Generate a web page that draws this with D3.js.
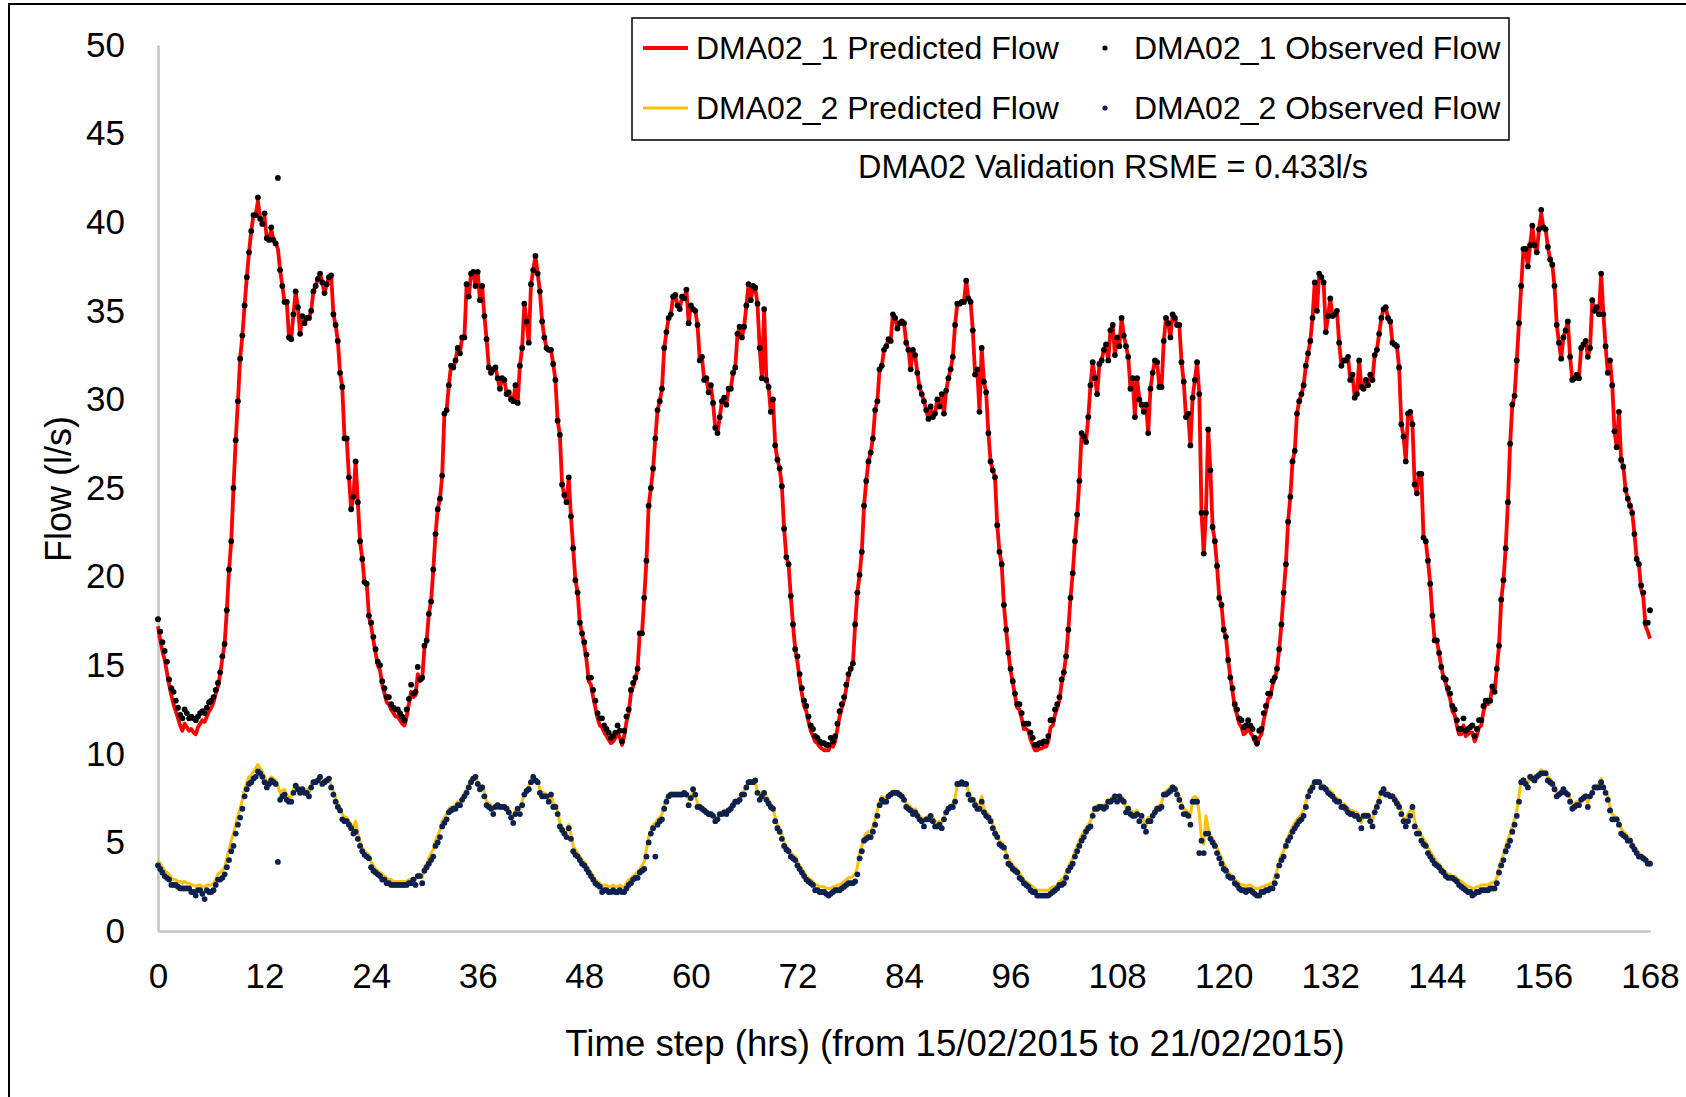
<!DOCTYPE html>
<html>
<head>
<meta charset="utf-8">
<script src="https://cdn.jsdelivr.net/npm/d3@7"></script>
<style>
  html, body { margin: 0; padding: 0; background: #fff; }
  svg { display: block; }
  text { font-family: "Liberation Sans", Arial, sans-serif; fill: #000; }
</style>
</head>
<body>
<svg id="chart" width="1686" height="1097"></svg>
<script>
// Flow series sampled every 15 minutes (one row = one hour), 0 h .. 168 h
const step = 0.25;

const obs1 = [
17.6,16.9,16.3,15.8, 15.2,14.2,13.7,13.5, 13.0,12.6,12.2,12.0, 12.5,12.3,12.0,12.1,
12.0,11.9,12.1,12.3, 12.4,12.3,12.6,12.9, 13.0,13.2,13.6,14.0, 14.6,15.5,16.2,18.1,
20.4,22.0,25.0,27.7, 29.9,32.3,33.6,35.3, 36.9,38.3,39.5,40.4, 40.4,41.4,40.2,39.9,
40.5,39.1,39.0,39.7, 39.0,38.8,42.5,37.3, 36.4,35.5,35.5,33.5, 33.4,34.8,36.1,35.2,
33.7,34.7,34.3,34.6, 34.6,35.0,36.1,36.4, 36.8,37.1,36.6,36.0, 36.5,36.9,37.0,34.8,
34.2,33.3,31.5,30.7, 27.8,27.8,25.6,23.8, 24.5,26.5,24.2,22.0, 21.0,19.7,19.6,17.8,
17.4,16.6,15.9,15.2, 15.0,14.1,13.7,13.2, 13.2,12.8,12.6,12.5, 12.5,12.3,12.1,11.9,
12.5,13.1,13.9,13.4, 13.5,14.9,14.2,14.3, 16.1,16.4,17.9,18.6, 20.4,22.4,23.8,24.4,
25.7,29.2,29.4,30.8, 31.9,31.8,32.2,32.9, 32.6,33.5,33.5,36.5, 35.8,37.1,37.2,36.4,
37.2,35.6,36.4,34.7, 33.4,31.8,31.5,31.7, 31.8,31.2,30.6,31.2, 31.1,30.3,30.4,30.0,
29.9,30.8,29.8,31.9, 32.9,35.4,34.4,33.2, 36.5,37.3,38.1,37.1, 36.1,34.4,33.5,32.9,
32.8,32.8,32.0,31.1, 28.8,28.0,25.2,24.6, 24.2,25.6,23.4,21.6, 19.8,19.1,17.4,16.8,
16.3,15.6,14.3,14.3, 13.6,13.0,12.3,12.0, 12.0,11.6,11.4,11.2, 10.9,11.0,11.2,11.6,
11.3,10.7,11.3,12.1, 12.5,13.6,14.0,14.3, 14.8,16.8,16.8,18.8, 20.9,24.0,25.0,26.1,
27.8,29.4,29.9,30.6, 32.9,33.8,34.6,34.8, 35.8,35.9,35.3,35.1, 35.8,35.7,36.2,34.3,
35.3,35.1,35.0,34.2, 32.2,32.4,31.1,31.2, 30.4,30.8,29.8,28.4, 28.1,29.0,29.9,30.1,
29.7,30.6,30.6,31.5, 31.8,33.7,34.1,33.5, 34.1,35.3,36.5,35.6, 36.4,36.3,35.4,32.9,
31.2,35.1,31.1,30.7, 29.3,30.0,27.4,26.6, 26.1,25.1,22.7,21.1, 20.7,18.9,17.3,15.9,
15.5,14.5,13.7,13.0, 12.7,12.1,11.6,11.4, 11.0,10.9,10.7,10.6, 10.6,10.5,10.5,10.9,
10.7,11.0,11.7,12.4, 12.8,13.2,13.9,14.5, 14.8,15.1,17.3,19.1, 20.1,21.4,24.0,25.4,
26.5,27.0,27.8,29.4, 29.9,31.7,31.9,32.8, 33.0,33.4,33.3,34.8, 34.6,34.0,34.3,34.4,
34.3,33.2,32.8,31.7, 32.8,32.5,31.5,30.7, 30.3,29.9,29.4,28.9, 29.6,29.0,29.2,30.0,
29.6,30.3,29.2,30.5, 31.2,31.7,32.4,34.2, 35.4,35.4,35.5,35.5, 36.7,35.7,35.5,33.9,
31.4,31.7,29.3,32.9, 31.0,30.4,28.1,26.5, 26.0,25.6,22.9,21.4, 20.7,18.4,17.0,15.7,
14.8,14.1,13.4,12.8, 12.8,12.3,11.7,11.7, 11.7,11.2,10.9,10.5, 10.5,10.6,10.6,10.7,
10.7,11.0,11.9,11.9, 12.5,12.8,13.2,14.2, 14.6,15.5,17.0,18.8, 20.2,22.0,23.5,25.4,
28.1,27.9,27.6,29.0, 30.8,32.1,31.2,30.3, 32.0,32.2,32.8,33.1, 32.2,33.9,34.2,32.5,
33.5,33.0,34.6,33.6, 33.0,32.4,30.6,31.2, 29.0,31.2,30.0,29.7, 29.3,29.7,28.1,30.6,
31.5,32.2,32.1,30.7, 30.7,33.3,34.6,34.3, 33.5,34.8,34.6,34.2, 34.2,32.1,31.0,29.0,
29.2,27.4,30.1,31.1, 32.1,30.3,23.6,21.3, 23.6,28.3,26.0,22.8, 22.0,20.6,18.8,18.4,
17.0,16.6,15.3,14.3, 13.7,12.8,12.5,12.0, 11.9,11.5,11.6,11.9, 11.6,11.4,10.9,10.6,
11.3,11.4,12.3,12.7, 13.4,13.4,14.1,14.3, 14.8,15.9,17.3,19.1, 20.7,23.1,24.5,26.5,
27.1,29.2,29.9,30.3, 30.8,31.9,32.6,33.3, 34.6,36.6,35.0,37.1, 36.9,36.6,33.8,34.7,
35.7,34.7,34.8,35.0, 33.2,31.9,32.2,32.2, 32.4,31.1,31.4,30.1, 30.3,32.2,30.7,30.6,
31.1,30.8,31.4,31.1, 32.5,32.8,33.7,34.6, 35.1,35.2,34.6,34.4, 33.2,33.1,33.0,31.8,
28.6,27.9,26.5,29.2, 29.3,28.6,25.2,24.7, 25.8,25.8,22.2,22.0, 20.9,19.6,17.8,16.4,
16.4,15.7,14.9,14.3, 14.2,13.7,13.4,12.7, 12.5,11.9,11.4,11.4, 12.0,11.3,11.4,11.5,
11.6,11.0,11.4,11.9, 11.9,12.7,13.0,13.0, 13.0,13.8,13.5,14.8, 16.1,18.7,19.8,21.6,
24.2,27.5,29.7,30.2, 32.2,34.3,36.4,38.5, 38.5,37.5,38.7,39.8, 38.7,38.3,39.6,40.7,
39.7,39.6,38.6,37.9, 37.6,36.4,34.2,33.2, 32.3,33.5,33.9,34.4, 32.4,31.1,31.2,31.4,
31.2,32.9,33.1,33.3, 32.4,32.9,35.6,35.0, 35.2,34.8,37.1,34.8, 33.0,31.5,32.2,30.8,
28.2,27.3,29.3,26.6, 26.2,24.9,24.4,24.0, 23.6,22.4,21.0,20.7, 19.5,19.1,17.4,17.4,
18.1
];

const pred1 = [
17.2,16.4,15.8,15.3, 14.6,13.9,13.3,12.8, 12.4,12.0,11.6,11.3, 11.7,11.5,11.3,11.4,
11.2,11.1,11.5,11.7, 11.9,11.8,12.1,12.4, 12.6,12.9,13.4,13.8, 14.5,15.4,16.2,18.1,
20.4,22.0,25.0,27.7, 29.9,32.3,33.6,35.3, 36.9,38.3,39.5,40.4, 40.4,41.2,40.2,39.9,
40.3,39.1,39.0,39.6, 39.0,38.8,38.5,37.3, 36.4,35.5,35.5,33.5, 33.4,34.8,36.1,35.2,
33.7,34.7,34.3,34.6, 34.6,35.0,36.1,36.4, 36.8,37.1,36.6,36.0, 36.5,36.9,37.0,34.8,
34.2,33.3,31.5,30.7, 27.8,27.8,25.6,23.8, 24.5,26.5,24.2,22.0, 21.0,19.7,19.6,17.8,
17.2,16.4,15.7,15.0, 14.7,13.9,13.4,12.9, 12.8,12.5,12.3,12.1, 12.1,11.9,11.7,11.6,
12.1,12.8,13.5,13.2, 13.3,14.5,14.1,14.2, 16.0,16.4,17.9,18.6, 20.4,22.4,23.8,24.4,
25.7,29.2,29.4,30.8, 31.9,31.8,32.2,32.9, 32.6,33.5,33.5,36.5, 35.8,37.1,37.2,36.4,
37.2,35.6,36.4,34.7, 33.4,31.8,31.5,31.7, 31.8,31.2,30.6,31.2, 31.1,30.3,30.4,30.0,
29.9,30.8,29.8,31.9, 32.9,35.4,34.4,33.2, 36.5,37.3,38.1,37.1, 36.1,34.4,33.5,32.9,
32.8,32.8,32.0,31.1, 28.8,28.0,25.2,24.6, 24.2,25.6,23.4,21.6, 19.8,19.1,17.4,16.8,
16.1,15.3,14.1,13.9, 13.2,12.6,12.0,11.6, 11.5,11.2,11.0,10.8, 10.6,10.7,10.9,11.2,
10.9,10.5,11.0,11.8, 12.3,13.4,13.8,14.2, 14.8,16.8,16.8,18.8, 20.9,24.0,25.0,26.1,
27.8,29.4,29.9,30.6, 32.9,33.8,34.6,34.8, 35.8,35.9,35.3,35.1, 35.8,35.7,36.2,34.3,
35.3,35.1,35.0,34.2, 32.2,32.4,31.1,31.2, 30.4,30.8,29.8,28.4, 28.1,29.0,29.9,30.1,
29.7,30.6,30.6,31.5, 31.8,33.7,34.1,33.5, 34.1,35.3,36.5,35.6, 36.4,36.3,35.4,32.9,
31.2,35.1,31.1,30.7, 29.3,30.0,27.4,26.6, 26.1,25.1,22.7,21.1, 20.7,18.9,17.3,15.9,
15.2,14.2,13.4,12.7, 12.4,11.8,11.3,11.0, 10.7,10.6,10.4,10.3, 10.2,10.2,10.2,10.5,
10.4,10.7,11.4,12.1, 12.6,13.0,13.7,14.4, 14.8,15.1,17.3,19.1, 20.1,21.4,24.0,25.4,
26.5,27.0,27.8,29.4, 29.9,31.7,31.9,32.8, 33.0,33.4,33.3,34.8, 34.6,34.0,34.3,34.4,
34.3,33.2,32.8,31.7, 32.8,32.5,31.5,30.7, 30.3,29.9,29.4,28.9, 29.6,29.0,29.2,30.0,
29.6,30.3,29.2,30.5, 31.2,31.7,32.4,34.2, 35.4,35.4,35.5,35.5, 36.7,35.7,35.5,33.9,
31.4,31.7,29.3,32.9, 31.0,30.4,28.1,26.5, 26.0,25.6,22.9,21.4, 20.7,18.4,17.0,15.7,
14.7,14.0,13.3,12.6, 12.5,12.0,11.4,11.4, 11.3,10.8,10.5,10.2, 10.2,10.3,10.3,10.4,
10.4,10.7,11.5,11.6, 12.2,12.6,13.0,14.0, 14.6,15.5,17.0,18.8, 20.2,22.0,23.5,25.4,
28.1,27.9,27.6,29.0, 30.8,32.1,31.2,30.3, 32.0,32.2,32.8,33.1, 32.2,33.9,34.2,32.5,
33.5,33.0,34.6,33.6, 33.0,32.4,30.6,31.2, 29.0,31.2,30.0,29.7, 29.3,29.7,28.1,30.6,
31.5,32.2,32.1,30.7, 30.7,33.3,34.6,34.3, 33.5,34.8,34.6,34.2, 34.2,32.1,31.0,29.0,
29.2,27.4,30.1,31.1, 32.1,30.3,23.6,21.3, 23.6,28.3,26.0,22.8, 22.0,20.6,18.8,18.4,
17.0,16.6,15.3,14.3, 13.5,12.6,12.2,11.7, 11.5,11.1,11.2,11.5, 11.2,11.0,10.7,10.5,
10.9,11.1,11.9,12.4, 13.1,13.2,13.9,14.2, 14.8,15.9,17.3,19.1, 20.7,23.1,24.5,26.5,
27.1,29.2,29.9,30.3, 30.8,31.9,32.6,33.3, 34.6,36.6,35.0,37.1, 36.9,36.6,33.8,34.7,
35.7,34.7,34.8,35.0, 33.2,31.9,32.2,32.2, 32.4,31.1,31.4,30.1, 30.3,32.2,30.7,30.6,
31.1,30.8,31.4,31.1, 32.5,32.8,33.7,34.6, 35.1,35.2,34.6,34.4, 33.2,33.1,33.0,31.8,
28.6,27.9,26.5,29.2, 29.3,28.6,25.2,24.7, 25.8,25.8,22.2,22.0, 20.9,19.6,17.8,16.4,
16.4,15.7,14.9,14.3, 14.0,13.5,13.1,12.4, 12.2,11.6,11.1,11.1, 11.6,11.0,11.1,11.2,
11.2,10.7,11.0,11.5, 11.6,12.4,12.8,12.8, 13.0,13.8,13.5,14.8, 16.1,18.7,19.8,21.6,
24.2,27.5,29.7,30.2, 32.2,34.3,36.4,38.5, 38.5,37.5,38.7,39.8, 38.7,38.3,39.6,40.5,
39.7,39.6,38.6,37.9, 37.6,36.4,34.2,33.2, 32.3,33.5,33.9,34.4, 32.4,31.1,31.2,31.4,
31.2,32.9,33.1,33.3, 32.4,32.9,35.6,35.0, 35.2,34.8,37.1,34.8, 33.0,31.5,32.2,30.8,
28.2,27.3,29.3,26.6, 26.2,24.9,24.4,24.0, 23.6,22.4,21.0,20.7, 19.3,18.8,17.2,16.9,
16.5
];

const obs2 = [
3.7,3.5,3.3,3.1, 3.0,2.9,2.6,2.6, 2.6,2.5,2.4,2.4, 2.4,2.4,2.4,2.2,
2.2,2.0,2.3,2.3, 2.1,1.8,2.3,2.2, 2.2,2.3,2.6,2.9, 2.9,3.0,3.2,3.6,
4.0,4.5,4.8,5.5, 6.0,6.4,6.9,7.6, 8.0,8.3,8.4,8.6, 8.7,9.0,8.9,8.7,
8.4,8.1,8.3,8.5, 8.4,8.3,3.9,7.4, 7.6,7.7,7.4,7.3, 7.3,7.8,8.2,8.0,
7.8,8.0,7.8,7.8, 7.6,8.1,8.4,8.4, 8.5,8.7,8.3,8.4, 8.5,8.6,8.1,7.7,
7.3,7.0,6.8,6.3, 6.2,6.2,6.0,5.8, 5.5,5.6,5.2,4.8, 4.5,4.3,4.2,4.1,
3.6,3.4,3.3,3.2, 3.1,2.9,2.9,2.7, 2.7,2.6,2.6,2.6, 2.6,2.6,2.6,2.6,
2.6,2.7,2.7,2.9, 2.6,3.1,3.1,2.7, 3.4,3.6,3.8,4.0, 4.2,4.8,5.0,5.3,
5.9,6.1,6.3,6.7, 6.8,6.9,6.9,7.1, 7.1,7.4,7.6,7.8, 8.1,8.4,8.6,8.7,
8.3,8.0,8.1,7.6, 7.1,7.0,6.9,6.6, 7.0,7.1,7.0,7.0, 7.0,6.9,6.7,6.4,
6.1,6.6,6.9,6.6, 7.1,7.7,7.9,8.0, 8.4,8.7,8.5,8.4, 7.8,7.6,7.6,7.6,
7.3,7.7,7.0,7.0, 6.6,5.9,5.7,5.5, 5.3,5.8,5.2,4.5, 4.3,4.2,4.0,3.8,
3.7,3.5,3.3,3.1, 2.9,2.7,2.6,2.5, 2.2,2.3,2.3,2.2, 2.2,2.3,2.2,2.2,
2.3,2.2,2.2,2.4, 2.6,2.7,2.9,3.0, 3.0,3.3,3.4,3.5, 4.2,5.0,5.5,5.8,
4.2,6.0,6.2,6.3, 6.9,7.3,7.6,7.7, 7.7,7.7,7.7,7.7, 7.7,7.8,7.7,7.1,
7.5,8.0,7.7,7.0, 7.0,6.9,6.8,6.7, 6.6,6.6,6.5,6.2, 6.3,6.6,6.6,6.7,
6.6,6.8,6.9,7.1, 7.3,7.3,7.4,7.7, 7.7,8.1,8.4,8.4, 8.4,8.5,7.8,7.4,
7.6,7.8,7.4,7.2, 7.0,6.9,6.2,5.8, 5.6,5.2,4.8,4.6, 4.5,4.2,4.1,4.0,
3.7,3.5,3.3,3.1, 2.9,2.8,2.7,2.6, 2.3,2.3,2.2,2.2, 2.2,2.1,2.0,2.1,
2.2,2.3,2.3,2.3, 2.4,2.5,2.6,2.7, 2.7,2.7,2.8,3.2, 4.1,4.5,5.1,5.2,
5.3,5.3,5.6,6.0, 6.5,7.1,7.4,7.3, 7.3,7.6,7.7,7.8, 7.8,7.8,7.7,7.6,
7.4,7.0,6.9,6.8, 6.6,6.7,6.5,6.3, 6.2,5.9,6.3,6.3, 6.5,6.2,5.9,5.9,
6.0,5.8,6.3,6.7, 6.9,7.0,7.0,7.3, 8.3,8.3,8.4,8.3, 8.3,7.7,7.4,7.4,
7.1,6.9,6.9,7.3, 6.7,6.5,6.4,6.2, 5.8,5.5,5.3,4.9, 4.8,4.7,4.2,3.8,
3.7,3.5,3.4,3.3, 3.0,2.9,2.7,2.6, 2.5,2.3,2.2,2.2, 2.0,2.0,2.0,2.0,
2.0,2.0,2.1,2.2, 2.3,2.4,2.6,2.6, 2.7,3.0,3.4,3.6, 3.8,4.2,4.5,4.8,
5.1,5.3,5.6,5.8, 5.9,6.5,6.9,6.9, 7.0,7.0,6.9,7.0, 7.3,7.3,7.4,7.6,
7.3,7.6,7.4,7.3, 6.7,6.9,6.6,6.5, 6.5,6.6,6.2,6.5, 5.9,5.6,6.2,6.2,
6.5,6.7,6.9,6.9, 7.0,7.7,7.7,7.8, 7.9,8.1,8.0,7.7, 7.4,7.0,6.6,6.6,
6.5,6.0,7.3,7.3, 7.3,4.4,5.1,4.4, 5.5,5.5,5.2,5.0, 4.8,4.4,4.1,3.8,
3.5,3.4,3.1,3.0, 3.0,2.7,2.6,2.4, 2.3,2.3,2.2,2.3, 2.3,2.2,2.1,2.0,
2.0,2.2,2.2,2.3, 2.3,2.4,2.4,2.7, 3.1,3.7,4.0,4.2, 4.8,5.1,5.3,5.6,
5.8,6.0,6.2,6.3, 6.5,7.0,7.6,7.9, 8.1,8.4,8.4,8.4, 8.1,8.1,8.0,7.8,
7.7,7.6,7.4,7.3, 7.3,7.0,7.0,6.9, 6.7,6.6,6.6,6.5, 6.5,6.3,5.8,6.5,
6.5,6.5,6.2,5.9, 6.7,7.0,7.3,7.8, 8.0,7.7,7.7,7.6, 7.6,7.4,7.2,7.0,
6.6,6.2,5.9,6.2, 6.5,7.0,5.9,5.5, 5.5,5.1,4.9,4.8, 4.4,4.2,4.0,3.8,
3.7,3.6,3.4,3.3, 3.1,3.0,3.0,3.0, 2.9,2.8,2.6,2.5, 2.4,2.3,2.2,2.2,
2.0,2.1,2.2,2.2, 2.3,2.3,2.3,2.3, 2.4,2.4,2.4,2.7, 3.3,3.7,4.0,4.5,
4.8,5.1,5.6,6.0, 6.5,7.3,8.4,8.5, 8.3,8.1,8.7,8.6, 8.5,8.7,8.8,8.9,
8.9,8.9,8.5,8.4, 8.3,8.0,7.6,7.7, 7.8,8.0,7.8,7.7, 7.3,6.9,7.0,7.1,
7.1,7.4,7.5,7.6, 7.0,7.6,7.8,8.1, 8.1,8.1,8.4,8.1, 7.8,7.4,6.8,6.3,
6.3,6.3,6.0,5.5, 5.4,5.3,5.1,5.1, 4.8,4.6,4.4,4.2, 4.2,4.1,4.0,3.8,
3.8
];

const pred2 = [
4.0,3.8,3.6,3.4, 3.3,3.2,3.0,2.9, 2.9,2.8,2.8,2.7, 2.8,2.7,2.7,2.6,
2.6,2.5,2.6,2.6, 2.5,2.5,2.6,2.6, 2.6,2.7,2.9,3.2, 3.3,3.4,3.6,4.1,
4.6,5.1,5.5,6.0, 6.5,6.9,7.4,8.0, 8.4,8.7,8.8,9.0, 9.2,9.4,9.2,9.0,
8.7,8.4,8.5,8.7, 8.6,8.5,8.2,7.8, 7.9,8.0,7.7,7.5, 7.6,8.0,8.3,8.2,
8.0,8.1,8.0,8.0, 7.8,8.2,8.5,8.5, 8.6,8.7,8.5,8.5, 8.6,8.6,8.2,7.9,
7.5,7.2,7.0,6.6, 6.4,6.4,6.2,6.0, 5.8,6.2,5.5,5.0, 4.7,4.5,4.4,4.3,
3.9,3.7,3.5,3.4, 3.3,3.2,3.1,3.0, 2.9,2.9,2.8,2.8, 2.8,2.8,2.8,2.8,
2.8,2.9,2.9,3.0, 2.9,3.2,3.2,3.0, 3.6,3.8,4.1,4.4, 4.6,5.1,5.4,5.7,
6.2,6.4,6.6,6.9, 7.0,7.0,7.1,7.3, 7.3,7.5,7.8,8.0, 8.3,8.6,8.7,8.7,
8.4,8.2,8.2,7.8, 7.3,7.2,7.1,6.9, 7.1,7.2,7.1,7.1, 7.1,7.0,6.9,6.6,
6.4,6.8,7.0,6.9, 7.3,7.8,8.0,8.2, 8.5,8.7,8.6,8.5, 8.0,7.8,7.8,7.7,
7.5,7.8,7.2,7.1, 6.8,6.1,5.9,5.7, 5.5,6.0,5.4,4.8, 4.6,4.4,4.2,4.0,
3.9,3.7,3.5,3.3, 3.1,2.9,2.8,2.7, 2.5,2.6,2.6,2.5, 2.5,2.6,2.5,2.5,
2.6,2.5,2.5,2.7, 2.9,3.0,3.1,3.2, 3.3,3.5,3.7,3.9, 4.6,5.3,5.7,6.0,
6.1,6.3,6.4,6.6, 7.1,7.5,7.7,7.8, 7.8,7.8,7.8,7.8, 7.8,7.9,7.8,7.4,
7.6,7.9,7.7,7.2, 7.1,7.0,6.9,6.8, 6.7,6.7,6.6,6.4, 6.4,6.6,6.7,6.8,
6.8,6.9,7.0,7.2, 7.4,7.4,7.5,7.8, 7.9,8.2,8.4,8.5, 8.5,8.4,7.9,7.6,
7.8,7.9,7.6,7.4, 7.1,7.0,6.4,6.0, 5.8,5.4,5.0,4.8, 4.6,4.4,4.3,4.2,
3.9,3.7,3.5,3.3, 3.1,3.0,2.9,2.8, 2.6,2.6,2.5,2.5, 2.5,2.4,2.4,2.4,
2.5,2.5,2.6,2.6, 2.7,2.8,2.9,3.0, 3.0,3.1,3.2,3.6, 4.4,4.8,5.3,5.5,
5.6,5.6,5.9,6.3, 6.8,7.3,7.6,7.5, 7.5,7.7,7.8,7.9, 7.9,7.9,7.8,7.7,
7.6,7.2,7.1,7.0, 6.8,6.9,6.7,6.5, 6.4,6.2,6.4,6.5, 6.6,6.4,6.2,6.1,
6.2,6.1,6.4,6.8, 7.0,7.1,7.2,7.5, 8.2,8.3,8.4,8.4, 8.3,7.9,7.6,7.5,
7.3,7.1,7.1,7.6, 6.9,6.7,6.6,6.4, 6.0,5.7,5.5,5.1, 5.0,4.8,4.4,4.1,
3.9,3.7,3.6,3.5, 3.3,3.1,2.9,2.8, 2.7,2.6,2.5,2.4, 2.3,2.3,2.3,2.3,
2.3,2.3,2.4,2.5, 2.5,2.6,2.8,2.9, 3.0,3.3,3.6,3.9, 4.1,4.5,4.8,5.1,
5.4,5.6,5.8,6.0, 6.2,6.7,7.0,7.1, 7.1,7.1,7.1,7.2, 7.4,7.4,7.6,7.7,
7.5,7.7,7.6,7.4, 6.9,7.0,6.8,6.7, 6.7,6.8,6.5,6.6, 6.2,5.9,6.4,6.4,
6.6,6.8,7.0,7.1, 7.2,7.8,7.9,8.0, 8.1,8.2,8.1,7.9, 7.6,7.2,6.9,6.8,
6.7,6.4,7.5,7.6, 7.5,6.6,5.2,4.9, 6.5,5.8,5.4,5.2, 5.0,4.7,4.4,4.1,
3.8,3.6,3.3,3.2, 3.1,2.9,2.8,2.7, 2.6,2.6,2.5,2.6, 2.6,2.5,2.4,2.4,
2.4,2.5,2.5,2.6, 2.6,2.7,2.7,3.0, 3.4,3.9,4.3,4.5, 5.0,5.3,5.6,5.9,
6.1,6.3,6.4,6.6, 6.8,7.3,7.8,8.1, 8.3,8.5,8.5,8.5, 8.3,8.2,8.1,8.0,
7.9,7.8,7.6,7.5, 7.4,7.2,7.2,7.1, 6.9,6.8,6.8,6.7, 6.7,6.5,6.1,6.6,
6.6,6.6,6.4,6.2, 6.9,7.2,7.5,7.9, 8.1,7.9,7.8,7.7, 7.7,7.6,7.4,7.2,
6.8,6.4,6.2,6.6, 6.8,7.1,6.2,5.8, 5.7,5.4,5.2,5.0, 4.7,4.5,4.3,4.1,
3.9,3.8,3.6,3.5, 3.3,3.2,3.2,3.1, 3.1,3.0,2.9,2.8, 2.7,2.6,2.5,2.5,
2.4,2.4,2.5,2.5, 2.6,2.6,2.6,2.6, 2.7,2.7,2.8,3.0, 3.6,4.0,4.3,4.8,
5.2,5.5,5.9,6.3, 6.8,7.6,8.5,8.6, 8.5,8.3,8.8,8.8, 8.7,8.8,8.9,9.1,
9.0,9.0,8.7,8.6, 8.4,8.2,7.8,7.8, 7.9,8.1,7.9,7.8, 7.5,7.1,7.2,7.3,
7.3,7.5,7.6,7.7, 7.2,7.7,7.9,8.2, 8.2,8.3,8.6,8.2, 7.9,7.6,7.0,6.6,
6.5,6.4,6.2,5.8, 5.6,5.5,5.3,5.2, 5.0,4.8,4.6,4.4, 4.3,4.2,4.1,4.0,
3.9
];

const xTicks = [0, 12, 24, 36, 48, 60, 72, 84, 96, 108, 120, 132, 144, 156, 168];
const yTicks = [0, 5, 10, 15, 20, 25, 30, 35, 40, 45, 50];

const seriesNames = [
  "DMA02_1 Predicted Flow", "DMA02_1 Observed Flow",
  "DMA02_2 Predicted Flow", "DMA02_2 Observed Flow"
];
const xTitle = "Time step (hrs) (from 15/02/2015 to 21/02/2015)";
const yTitle = "Flow (l/s)";
const note = "DMA02 Validation RSME = 0.433l/s";

// ---------------------------------------------------------------
const W = 1686, H = 1097;
const svg = d3.select("#chart");
const FONT = '"Liberation Sans", Arial, sans-serif';

svg.append("rect").attr("width", W).attr("height", H).attr("fill", "#fff");

// outer frame (top and left edges are inside the canvas)
svg.append("rect")
  .attr("x", 9).attr("y", 4).attr("width", W + 20).attr("height", H + 20)
  .attr("fill", "none").attr("stroke", "#000").attr("stroke-width", 2);

const x = d3.scaleLinear().domain([0, 168]).range([158, 1650]);
const y = d3.scaleLinear().domain([0, 50]).range([931, 45]);

const toPts = arr => arr.map((v, i) => ({ t: i * step, v }));

const axisColor = "#c4c4c4";
const RED = "#FF0000", GOLD = "#FFC000", NAVY = "#0D2150";
const dotR = 2.9;

// y axis
const gy = svg.append("g").attr("transform", `translate(${x(0)},0)`)
  .call(d3.axisLeft(y).tickValues(yTicks).tickSize(0).tickSizeOuter(0).tickPadding(33)
    .tickFormat(d3.format("d")));
gy.select(".domain").attr("stroke", axisColor).attr("stroke-width", 2.5);
gy.selectAll("text").attr("font-size", 35).attr("fill", "#000").style("font-family", FONT);

// x axis
const gx = svg.append("g").attr("transform", `translate(0,${y(0)})`)
  .call(d3.axisBottom(x).tickValues(xTicks).tickSize(0).tickSizeOuter(0).tickPadding(32)
    .tickFormat(d3.format("d")));
gx.select(".domain").attr("stroke", axisColor).attr("stroke-width", 2.5);
gx.selectAll("text").attr("font-size", 35).attr("fill", "#000").style("font-family", FONT);

// axis titles
svg.append("text")
  .attr("transform", "translate(58,489) rotate(-90)")
  .attr("text-anchor", "middle").attr("dominant-baseline", "central")
  .attr("font-size", 36).text(yTitle);

svg.append("text")
  .attr("x", 955).attr("y", 1043)
  .attr("text-anchor", "middle").attr("dominant-baseline", "central")
  .attr("font-size", 36.6).text(xTitle);

// series
const line = d3.line().x(d => x(d.t)).y(d => y(d.v));
const plot = svg.append("g");

plot.append("path").datum(toPts(pred2))
  .attr("d", line).attr("fill", "none")
  .attr("stroke", GOLD).attr("stroke-width", 3).attr("stroke-linejoin", "round");

plot.append("g").selectAll("circle").data(toPts(obs2)).join("circle")
  .attr("cx", d => x(d.t)).attr("cy", d => y(d.v)).attr("r", dotR)
  .attr("fill", NAVY);

plot.append("path").datum(toPts(pred1))
  .attr("d", line).attr("fill", "none")
  .attr("stroke", RED).attr("stroke-width", 3.8).attr("stroke-linejoin", "round");

plot.append("g").selectAll("circle").data(toPts(obs1)).join("circle")
  .attr("cx", d => x(d.t)).attr("cy", d => y(d.v)).attr("r", dotR)
  .attr("fill", "#000");

// legend
const lg = svg.append("g");
lg.append("rect").attr("x", 632).attr("y", 18).attr("width", 877).attr("height", 122)
  .attr("fill", "#fff").attr("stroke", "#000").attr("stroke-width", 1.5);

const legendItems = [
  { name: seriesNames[0], kind: "line", color: RED,  w: 3.8, col: 0, row: 0 },
  { name: seriesNames[1], kind: "dot",  color: "#000", col: 1, row: 0 },
  { name: seriesNames[2], kind: "line", color: GOLD, w: 3.2, col: 0, row: 1 },
  { name: seriesNames[3], kind: "dot",  color: NAVY, col: 1, row: 1 }
];
const colX = [643, 1105];
const rowY = [48, 108];
legendItems.forEach(it => {
  const cx = colX[it.col], cy = rowY[it.row];
  if (it.kind === "line") {
    lg.append("line").attr("x1", cx).attr("x2", cx + 45).attr("y1", cy).attr("y2", cy)
      .attr("stroke", it.color).attr("stroke-width", it.w);
    lg.append("text").attr("x", cx + 53).attr("y", cy)
      .attr("dominant-baseline", "central").attr("font-size", 32).text(it.name);
  } else {
    lg.append("circle").attr("cx", cx).attr("cy", cy).attr("r", 2.6).attr("fill", it.color);
    lg.append("text").attr("x", cx + 29).attr("y", cy)
      .attr("dominant-baseline", "central").attr("font-size", 32).text(it.name);
  }
});

svg.append("text")
  .attr("x", 1113).attr("y", 167)
  .attr("text-anchor", "middle").attr("dominant-baseline", "central")
  .attr("font-size", 32.4).text(note);
</script>
</body>
</html>
